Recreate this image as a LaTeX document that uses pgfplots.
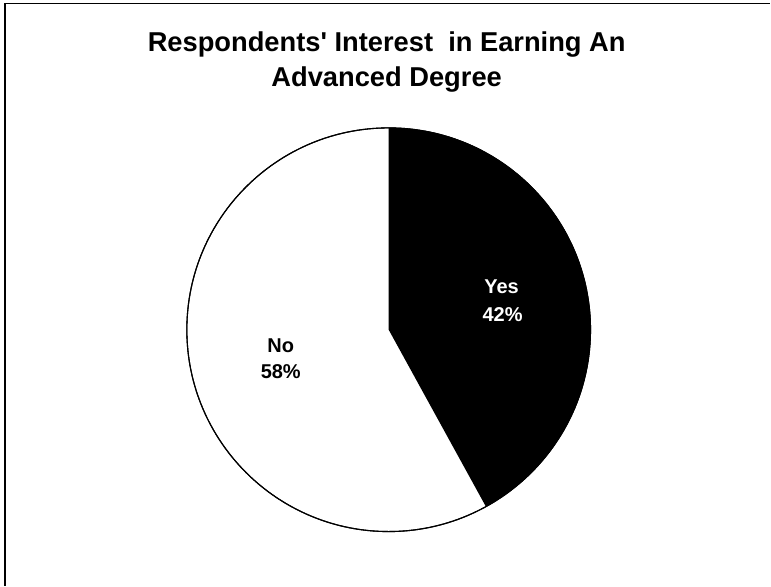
\documentclass[border=0pt]{standalone}
\usepackage{pgfplots}
\pgfplotsset{compat=1.18}
\usepackage{pgfplotstable}
\usepackage{fontspec}
\setmainfont{Liberation Sans}
\newfontfamily\titlefont{Liberation Sans}[Ligatures=TeXOff]
\pgfplotstableread{
label value
Yes 42
No 58
}\piedata
\begin{document}
\begin{tikzpicture}
\pgfplotstablegetelem{0}{value}\of\piedata \let\yesval\pgfplotsretval
\pgfplotstablegetelem{1}{value}\of\piedata \let\noval\pgfplotsretval
\pgfmathsetmacro{\yesend}{90-\yesval*3.6}
\begin{axis}[
  scale only axis, width=771pt, height=586pt,
  xmin=0, xmax=771, ymin=0, ymax=586, y dir=reverse,
  hide axis, clip=false,
]
\path (axis cs:0,0) rectangle (axis cs:771,586);
% frame
\draw[line width=1.3pt] (axis cs:5,586) -- (axis cs:5,3.5) -- (axis cs:771,3.5);
% pie
\draw[fill=white, line width=1.1pt] (axis cs:389,330) circle[radius=202pt];
\fill[black] (axis cs:389,330) -- ++(90:202pt) arc[start angle=90, end angle=\yesend, radius=202pt] -- cycle;
\draw[black, line width=1.1pt] (axis cs:389,330) circle[radius=202pt];
% labels
\node[anchor=base, font=\fontsize{20}{24}\selectfont\bfseries, text=white] at (axis cs:502,294) {Yes};
\node[anchor=base, font=\fontsize{20}{24}\selectfont\bfseries, text=white] at (axis cs:503,322) {\yesval\%};
\node[anchor=base, font=\fontsize{20}{24}\selectfont\bfseries] at (axis cs:281,353) {No};
\node[anchor=base, font=\fontsize{20}{24}\selectfont\bfseries] at (axis cs:281,379) {\noval\%};
% title
\node[anchor=base, font=\titlefont\fontsize{27.3}{33}\selectfont\bfseries] at (axis cs:387,52) {Respondents' Interest\ \ in Earning An};
\node[anchor=base, font=\titlefont\fontsize{27.3}{33}\selectfont\bfseries] at (axis cs:387,87) {Advanced Degree};
\end{axis}
\end{tikzpicture}
\end{document}
